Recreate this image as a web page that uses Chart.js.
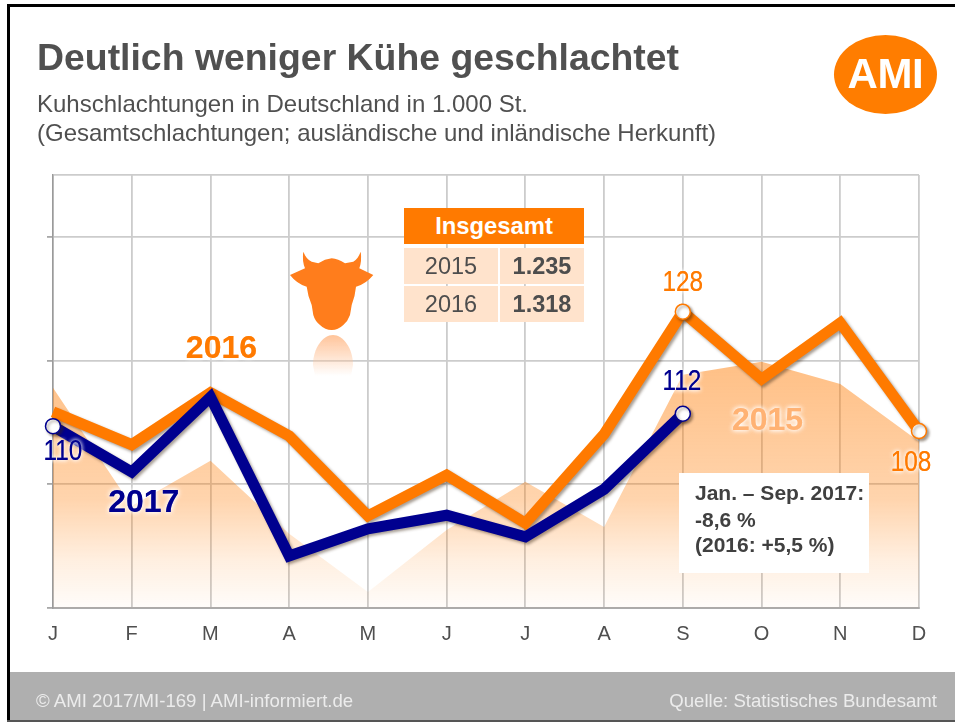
<!DOCTYPE html>
<html lang="de"><head><meta charset="utf-8"><title>Deutlich weniger Kühe geschlachtet</title>
<script src="https://cdn.jsdelivr.net/npm/chart.js@4"></script>
<style>
html,body{margin:0;padding:0;background:#fff;overflow:hidden}
#page{position:relative;width:955px;height:722px;overflow:hidden;font-family:"Liberation Sans",Arial,sans-serif;color:#505050}
#page>*{position:absolute}
canvas{left:0;top:0}
.frameT{left:7px;top:4px;width:948px;height:3px;background:#000}
.frameL{left:7px;top:4px;width:3px;height:718px;background:#000}
.foot{left:10px;top:672px;width:945px;height:48px;background:#AFAFAF}
.frameB{left:7px;top:720px;width:948px;height:2px;background:#555}
.t{white-space:nowrap;line-height:1.149}
.cell{display:flex;align-items:center;justify-content:center;background:#FFE3CC;font-size:23.5px;color:#4d4d4d}
</style></head><body>
<div id="page">
<canvas id="c" width="955" height="722"></canvas>
<div class="frameT"></div><div class="frameL"></div><div class="foot"></div><div class="frameB"></div>
<div class="t" style="left:37px;top:36px;font-size:37.4px;font-weight:bold">Deutlich weniger Kühe geschlachtet</div>
<div class="t" style="left:37px;top:90px;font-size:24px">Kuhschlachtungen in Deutschland in 1.000 St.</div>
<div class="t" style="left:37px;top:119px;font-size:24px">(Gesamtschlachtungen; ausländische und inländische Herkunft)</div>
<div style="left:834px;top:35px;width:103px;height:79px;border-radius:50%;background:#FF7D00"></div>
<div class="t" style="left:834px;width:103px;top:50px;text-align:center;font-size:42px;font-weight:bold;color:#fff;letter-spacing:-.4px">AMI</div>
<svg style="left:0;top:0" width="955" height="722" viewBox="0 0 955 722">
<defs><linearGradient id="refl" x1="0" y1="0" x2="0" y2="1"><stop offset="0" stop-color="#FFC49A"/><stop offset="1" stop-color="#FFC49A" stop-opacity="0"/></linearGradient>
<filter id="soft"><feGaussianBlur stdDeviation="0.7"/></filter></defs>
<path filter="url(#soft)" fill="#FF7D1A" d="M303.3 251.7Q306 259 311.7 261.7L318.3 263.3Q325 259 331.7 258.3Q338 259 345 263.3L353.3 261.7Q358 259 360.7 251.7Q362 261 359.3 268.3L373.3 275Q366 284 356 286.7Q355 297 351.7 305L350 315Q348 321 343.3 325Q338 330 331.7 330Q325 330 320 325Q315 321 313.3 315L311.7 305Q308 297 306.7 286.7Q297 284 290 275L305 268.3Q302 261 303.3 251.7Z"/>
<path filter="url(#soft)" fill="url(#refl)" d="M313 365C313 348 323 335 333 335C343 335 353 348 353 365L351 376L315 376Z"/>
</svg>
<div class="t" style="left:404px;top:208px;width:180px;height:36px;background:#FF7A00;color:#fff;font-weight:bold;font-size:23.8px;display:flex;align-items:center;justify-content:center">Insgesamt</div>
<div class="cell" style="left:404px;top:248px;width:94px;height:36px">2015</div>
<div class="cell" style="left:500px;top:248px;width:84px;height:36px;font-weight:bold">1.235</div>
<div class="cell" style="left:404px;top:286px;width:94px;height:36px">2016</div>
<div class="cell" style="left:500px;top:286px;width:84px;height:36px;font-weight:bold">1.318</div>
<div style="left:679px;top:473px;width:190px;height:100px;background:#fff"></div>
<div class="t" style="left:695px;top:481px;font-size:21px;font-weight:bold;color:#404040">Jan. – Sep. 2017:</div>
<div class="t" style="left:695px;top:508px;font-size:21px;font-weight:bold;color:#404040">-8,6 %</div>
<div class="t" style="left:695px;top:533px;font-size:21px;font-weight:bold;color:#404040">(2016: +5,5 %)</div>
<div class="t" style="left:36px;top:689.5px;font-size:18.6px;color:#ececec">© AMI 2017/MI-169 | AMI-informiert.de</div>
<div class="t" style="right:18px;top:689.5px;font-size:18.6px;color:#ececec">Quelle: Statistisches Bundesamt</div>
</div>
<script>
const months = ['J','F','M','A','M','J','J','A','S','O','N','D'];
const values2015 = [115.6,96.5,103.8,92,82.6,92.6,100.4,93.1,117.7,119.8,116.2,106.9];
const values2016 = [111.7,106.4,114.8,107.8,94.9,101.5,93.7,108.1,127.9,117,126.1,108.6];
const values2017 = [109.4,102,114.1,88.4,92.8,95,91.5,99.2,111.4];
const seriesNames = ['2015','2016','2017'];
const labels2016 = ['128','108'];
const labels2017 = ['110','112'];

const ORANGE='#FF7A00', BLUE='#00008F';
const FONT='"Liberation Sans",Arial,sans-serif';
Chart.defaults.font.family=FONT;

function areaFill(ctx){
  const a=ctx.chart.chartArea; if(!a) return 'rgba(255,122,0,.3)';
  const y=ctx.chart.scales.y, g=ctx.chart.ctx.createLinearGradient(0,y.getPixelForValue(120),0,y.getPixelForValue(80));
  g.addColorStop(0,'rgba(255,122,0,.48)');
  g.addColorStop(.56,'rgba(255,122,0,.32)');
  g.addColorStop(.8,'rgba(255,122,0,.125)');
  g.addColorStop(1,'rgba(255,122,0,.02)');
  return g;
}
const endpoints=(i,list)=>list.includes(i);

const shadowPlugin={id:'lineShadow',
  beforeDatasetDraw(ch,args){ch.ctx.save(); if(args.index>0){ch.ctx.shadowColor='rgba(60,40,20,.45)';ch.ctx.shadowOffsetX=2;ch.ctx.shadowOffsetY=2;ch.ctx.shadowBlur=3;}},
  afterDatasetDraw(ch){ch.ctx.restore();}
};
function put(ch,text,idx,ds,dx,dy,font,color,halo,sx){
  const p=ch.getDatasetMeta(ds).data[idx], c=ch.ctx;
  c.save(); c.font=font; c.textAlign='center'; c.textBaseline='middle';
  c.shadowColor='#fff'; c.shadowBlur=halo; c.fillStyle=color;
  c.translate(p.x+dx,p.y+dy); c.scale(sx||1,1);
  c.fillText(text,0,0); c.fillText(text,0,0);
  c.restore();
}
const labelPlugin={id:'pointLabels',afterDatasetsDraw(ch){
  const num='29px '+FONT, big='bold 32px '+FONT, nx=.84;
  put(ch,labels2017[0],0,2,10,26,num,BLUE,4,nx);
  put(ch,labels2017[1],8,2,-1,-32,num,BLUE,4,nx);
  put(ch,labels2016[0],8,1,0,-29,num,ORANGE,4,nx);
  put(ch,labels2016[1],11,1,-8,32,num,ORANGE,4,nx);
  put(ch,seriesNames[0],9,0,6,59,big,'#FFB273',5);
  put(ch,seriesNames[1],2,1,11,-44,big,ORANGE,4);
  put(ch,seriesNames[2],1,2,12,31,big,BLUE,5);
}};

new Chart(document.getElementById('c'),{
  type:'line',
  data:{labels:months,datasets:[
    {label:seriesNames[0],data:values2015,order:3,borderWidth:0,pointRadius:0,fill:'start',backgroundColor:areaFill,tension:0,clip:false},
    {label:seriesNames[1],data:values2016,order:2,borderColor:ORANGE,borderWidth:11,borderJoinStyle:'miter',fill:false,tension:0,clip:false,
      pointRadius:c=>endpoints(c.dataIndex,[8,11])?7.5:0,pointBackgroundColor:'#fff',pointBorderColor:ORANGE,pointBorderWidth:1.5},
    {label:seriesNames[2],data:values2017,order:1,borderColor:BLUE,borderWidth:11,borderJoinStyle:'miter',fill:false,tension:0,clip:false,
      pointRadius:c=>endpoints(c.dataIndex,[0,8])?7.5:0,pointBackgroundColor:'#fff',pointBorderColor:BLUE,pointBorderWidth:1.5}
  ]},
  options:{
    responsive:false,animation:false,
    layout:{padding:{top:175,right:36,left:0,bottom:0}},
    plugins:{legend:{display:false},tooltip:{enabled:false},title:{display:false}},
    scales:{
      x:{offset:false,
        afterFit(s){s.height=114;},
        border:{color:'#ABABAB',width:2},
        grid:{color:'#CCCCCC',lineWidth:1.8,tickLength:0,drawTicks:false},
        ticks:{color:'#4f4f4f',font:{size:20},padding:14,maxRotation:0,autoSkip:false}},
      y:{min:80,max:150,
        afterFit(s){s.width=53;},
        border:{color:'#9A9A9A',width:1.5},
        grid:{color:'#CCCCCC',lineWidth:1.8,tickLength:6,tickColor:c=>c.tick.value>=150?'transparent':'#A8A8A8'},
        ticks:{stepSize:20,display:true,callback:()=>'',padding:0}}
    }
  },
  plugins:[shadowPlugin,labelPlugin]
});
</script>
</body></html>
